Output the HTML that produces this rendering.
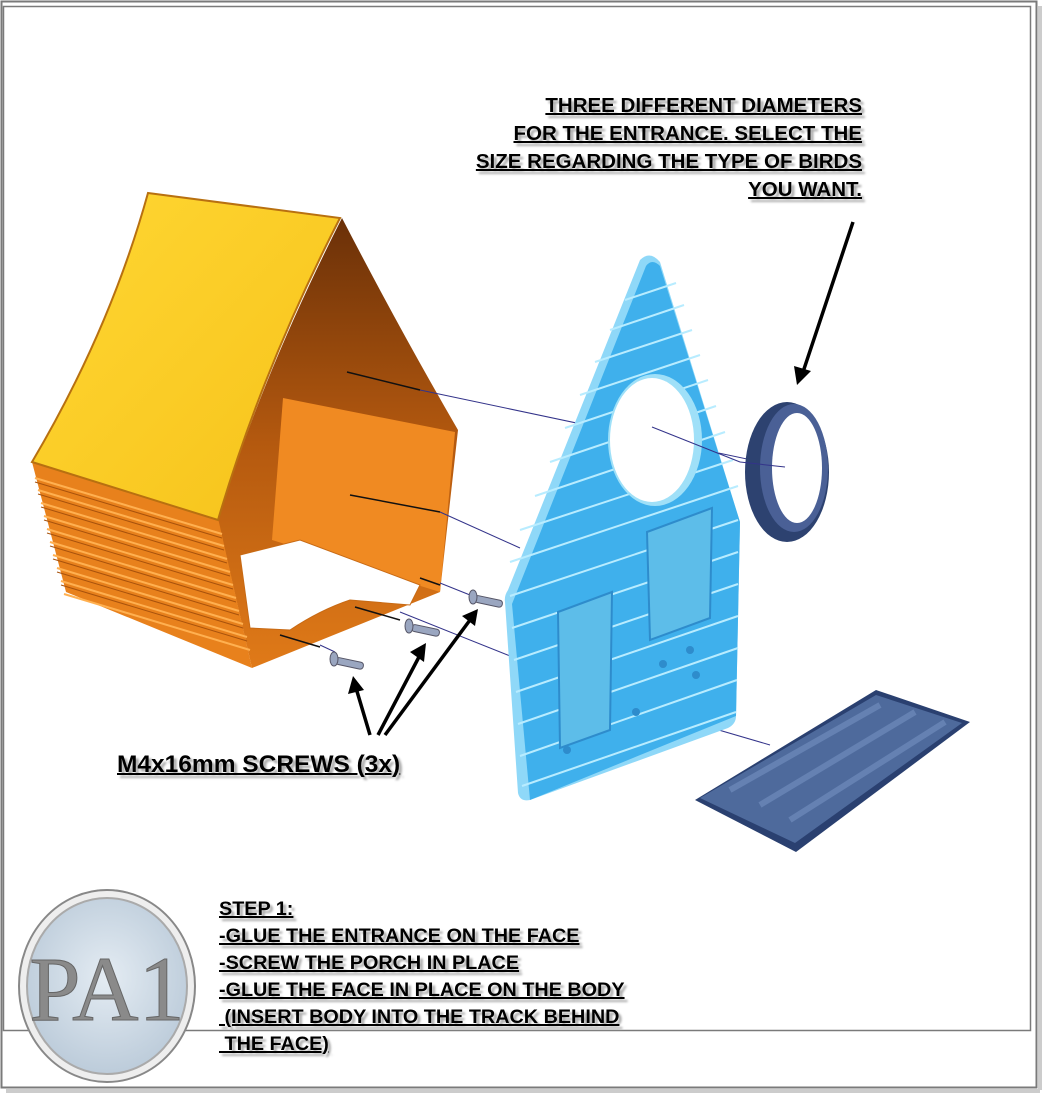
<!DOCTYPE html>
<html><head><meta charset="utf-8"><style>
html,body{margin:0;padding:0;background:#fff;}
body{width:1044px;height:1094px;position:relative;overflow:hidden;font-family:"Liberation Sans",sans-serif;}
.t{position:absolute;font-weight:bold;font-size:20.5px;text-decoration:underline;text-decoration-thickness:2px;color:#000;white-space:pre;text-shadow:3px 3px 2px #aaa;}
</style></head><body>
<svg width="1044" height="1094" style="position:absolute;left:0;top:0">
<defs>
<linearGradient id="roof" x1="0" y1="0" x2="1" y2="1"><stop offset="0" stop-color="#ffd733"/><stop offset="1" stop-color="#f6c21a"/></linearGradient>
<linearGradient id="inner" x1="0" y1="0" x2="0" y2="1"><stop offset="0" stop-color="#6a3008"/><stop offset="0.5" stop-color="#b4590f"/><stop offset="1" stop-color="#e07a18"/></linearGradient>
<radialGradient id="logo" cx="0.5" cy="0.45" r="0.6"><stop offset="0" stop-color="#e4ecf3"/><stop offset="1" stop-color="#b9c9d8"/></radialGradient>
</defs>
<rect x="1.5" y="1.5" width="1035" height="1086" fill="none" stroke="#7a7a7a" stroke-width="2"/>
<rect x="1038" y="6" width="4" height="1084" fill="#ccc"/>
<rect x="6" y="1089" width="1034" height="4" fill="#ccc"/>
<rect x="3.5" y="6.5" width="1027" height="1024" fill="none" stroke="#7a7a7a" stroke-width="1.5"/>

<path d="M342,218 Q400,330 458,430 L440,592 L252,668 L218,520 Q260,380 342,218Z" fill="url(#inner)"/>
<path d="M283,398 L455,432 L440,592 L272,540Z" fill="#f08a22"/>
<path d="M240,555 L300,540 L420,585 L410,605 L350,600 Q320,610 290,630 L250,628Z" fill="#fff" stroke="#c86a14"/>
<path d="M32,462 L218,518 L252,668 L66,592Z" fill="#e8811c"/>
<g stroke="#ffb050" stroke-width="2">
<line x1="35" y1="478" x2="222" y2="534"/><line x1="38" y1="490" x2="224" y2="546"/><line x1="41" y1="503" x2="227" y2="559"/><line x1="44" y1="516" x2="230" y2="572"/><line x1="47" y1="529" x2="233" y2="585"/><line x1="50" y1="542" x2="236" y2="598"/><line x1="53" y1="555" x2="239" y2="611"/><line x1="57" y1="568" x2="243" y2="624"/><line x1="61" y1="581" x2="247" y2="637"/><line x1="64" y1="594" x2="250" y2="650"/>
</g>
<g stroke="#a8520c" stroke-width="1">
<line x1="35" y1="482" x2="222" y2="538"/><line x1="38" y1="494" x2="224" y2="550"/><line x1="41" y1="507" x2="227" y2="563"/><line x1="44" y1="520" x2="230" y2="576"/><line x1="47" y1="533" x2="233" y2="589"/><line x1="50" y1="546" x2="236" y2="602"/><line x1="53" y1="559" x2="239" y2="615"/><line x1="57" y1="572" x2="243" y2="628"/><line x1="61" y1="585" x2="247" y2="641"/>
</g>
<path d="M148,193 L340,218 Q262,370 218,520 L32,462 Q110,330 148,193Z" fill="url(#roof)" stroke="#b87010" stroke-width="2"/>

<g stroke="#33338a" stroke-width="1" fill="none">
<line x1="420" y1="390" x2="785" y2="467"/><line x1="440" y1="512" x2="520" y2="548"/>
<line x1="440" y1="583" x2="470" y2="595"/><line x1="400" y1="612" x2="520" y2="660"/>
<line x1="320" y1="645" x2="335" y2="652"/><line x1="640" y1="707" x2="770" y2="745"/>
</g>
<g stroke="#111" stroke-width="1.5">
<line x1="347" y1="372" x2="420" y2="390"/><line x1="350" y1="495" x2="440" y2="512"/>
<line x1="420" y1="578" x2="440" y2="585"/><line x1="355" y1="607" x2="400" y2="620"/>
<line x1="280" y1="635" x2="320" y2="647"/>
</g>

<g fill="#9aa6c0" stroke="#556" stroke-width="1">
<rect x="336" y="657" width="28" height="7" rx="3" transform="rotate(12 336 660)"/><ellipse cx="334" cy="659" rx="4" ry="7"/>
<rect x="412" y="624" width="28" height="7" rx="3" transform="rotate(12 412 627)"/><ellipse cx="409" cy="626" rx="4" ry="7"/>
<rect x="475" y="595" width="28" height="7" rx="3" transform="rotate(12 475 598)"/><ellipse cx="473" cy="597" rx="4" ry="7"/>
</g>

<path d="M640,260 Q650,250 660,262 L740,522 L736,716 Q736,724 728,728 L530,800 Q520,802 518,793 L505,602 Q504,596 508,590 Z" fill="#8fd8f8"/>
<path d="M646,266 Q652,258 660,266 L740,522 L736,716 L530,800 L512,604 Z" fill="#3fb0ec"/>
<g stroke="#b8ecff" stroke-width="2">
<line x1="625" y1="300" x2="676" y2="283"/><line x1="610" y1="330" x2="684" y2="305"/><line x1="595" y1="362" x2="692" y2="330"/><line x1="580" y1="395" x2="700" y2="355"/><line x1="565" y1="428" x2="708" y2="380"/><line x1="550" y1="462" x2="716" y2="406"/><line x1="535" y1="496" x2="725" y2="432"/><line x1="520" y1="530" x2="733" y2="460"/><line x1="510" y1="562" x2="738" y2="486"/><line x1="510" y1="596" x2="738" y2="520"/><line x1="512" y1="628" x2="738" y2="552"/><line x1="514" y1="660" x2="738" y2="584"/><line x1="516" y1="692" x2="738" y2="616"/><line x1="518" y1="724" x2="738" y2="648"/><line x1="520" y1="756" x2="737" y2="680"/><line x1="522" y1="786" x2="736" y2="712"/>
</g>
<path d="M558,612 L612,592 L610,730 L560,748Z" fill="#5dbde9" stroke="#2e8ccc" stroke-width="2"/>
<path d="M647,532 L712,508 L710,618 L650,640Z" fill="#5dbde9" stroke="#2e8ccc" stroke-width="2"/>
<ellipse cx="655" cy="440" rx="47" ry="66" fill="#9fe0f8"/>
<ellipse cx="652" cy="440" rx="42" ry="62" fill="#fff"/>
<line x1="652" y1="427" x2="740" y2="462" stroke="#33338a" stroke-width="1"/>
<g fill="#2e8ccc"><circle cx="663" cy="664" r="4"/><circle cx="690" cy="650" r="4"/><circle cx="696" cy="675" r="4"/><circle cx="636" cy="712" r="4"/><circle cx="567" cy="750" r="4"/></g>

<ellipse cx="787" cy="472" rx="42" ry="70" fill="#2d4270"/>
<ellipse cx="794" cy="468" rx="34" ry="64" fill="#4a6096"/>
<ellipse cx="797" cy="468" rx="25" ry="55" fill="#fff"/>
<line x1="740" y1="462" x2="785" y2="467" stroke="#33338a" stroke-width="1"/>

<path d="M695,800 L876,690 L970,722 L796,852Z" fill="#2a4070"/>
<path d="M700,798 L876,695 L962,723 L795,843Z" fill="#4e6a9c"/>
<g stroke="#6f8cbc" stroke-width="6" opacity="0.7"><line x1="730" y1="790" x2="880" y2="705"/><line x1="760" y1="805" x2="915" y2="712"/><line x1="790" y1="820" x2="945" y2="722"/></g>

<g stroke="#000" stroke-width="3.5" fill="none">
<line x1="370" y1="735" x2="356" y2="688"/><line x1="378" y1="735" x2="420" y2="655"/><line x1="385" y1="735" x2="470" y2="620"/><line x1="853" y1="222" x2="803" y2="372"/>
</g>
<g fill="#000">
<polygon points="353,676 348,694 364,690"/><polygon points="426,643 410,652 424,662"/><polygon points="478,609 462,616 475,626"/><polygon points="797,385 794,366 811,371"/>
</g>

<ellipse cx="107" cy="986" rx="88" ry="96" fill="#eee" stroke="#888" stroke-width="2"/>
<ellipse cx="107" cy="986" rx="80" ry="88" fill="url(#logo)" stroke="#aaa" stroke-width="2"/>
<text x="107" y="1020" text-anchor="middle" font-family="Liberation Serif,serif" font-size="92" fill="#8a8a8a" stroke="#666" stroke-width="1">PA1</text>
</svg>

<div class="t" style="right:182px;top:92px;text-align:right;line-height:28px;">THREE DIFFERENT DIAMETERS
FOR THE ENTRANCE. SELECT THE
SIZE REGARDING THE TYPE OF BIRDS
YOU WANT.</div>
<div class="t" style="left:117px;top:751px;font-size:24.5px;">M4x16mm SCREWS (3x)</div>
<div class="t" style="left:219px;top:896px;line-height:27px;font-size:19.8px;">STEP 1:
-GLUE THE ENTRANCE ON THE FACE
-SCREW THE PORCH IN PLACE
-GLUE THE FACE IN PLACE ON THE BODY
 (INSERT BODY INTO THE TRACK BEHIND
 THE FACE)</div>
</body></html>
